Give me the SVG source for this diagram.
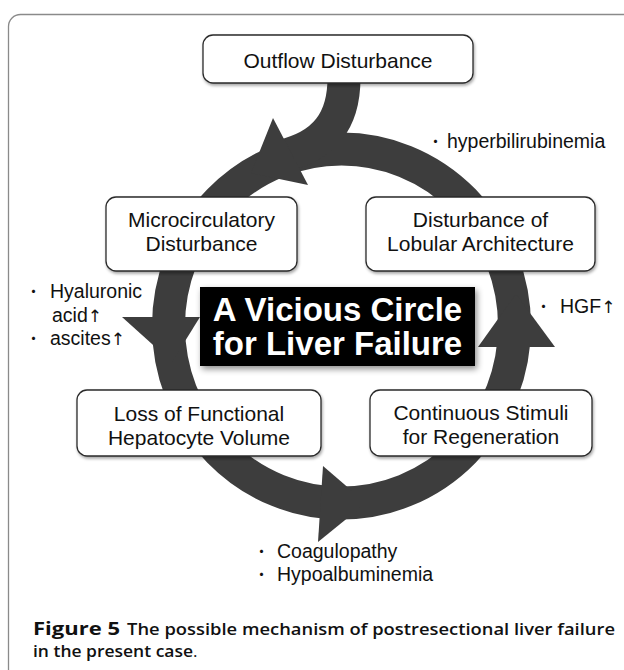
<svg xmlns="http://www.w3.org/2000/svg" width="624" height="670" viewBox="0 0 624 670">
  <defs>
    <filter id="sh" x="-10%" y="-10%" width="125%" height="140%">
      <feDropShadow dx="1" dy="2" stdDeviation="1.4" flood-color="#000" flood-opacity="0.35"/>
    </filter>
    <filter id="sh2" x="-10%" y="-15%" width="125%" height="140%">
      <feDropShadow dx="2" dy="3" stdDeviation="3" flood-color="#000" flood-opacity="0.45"/>
    </filter>
    <style>
      .box { fill: #ffffff; stroke: #2a2a2a; stroke-width: 1.3; filter: url(#sh); }
      .bt { font-family: "Liberation Sans", Arial, sans-serif; font-size: 21px; fill: #111; text-anchor: middle; }
      .lb { font-family: "Liberation Sans", "DejaVu Sans", sans-serif; font-size: 19.5px; fill: #111; }
      .ar { font-family: "DejaVu Sans", sans-serif; font-size: 17px; fill: #111; }
      .dot { font-family: "Noto Sans CJK JP", sans-serif; font-size: 15px; fill: #111; }
      .ct { font-family: "Liberation Sans", Arial, sans-serif; font-size: 33px; font-weight: bold; fill: #ffffff; text-anchor: middle; }
      .cap { font-family: "Open Sans", "Liberation Sans", sans-serif; font-size: 17px; fill: #111; }
      .band { fill: none; stroke: #3d3d3d; stroke-width: 33; }
      .head { fill: #3d3d3d; }
    </style>
  </defs>

  <rect x="0" y="0" width="624" height="670" fill="#ffffff"/>
  <rect x="8.5" y="14.5" width="650" height="690" rx="12" fill="#ffffff" stroke="#8a8a8a" stroke-width="1.3"/>

  <g id="connectors">
    <ellipse class="band" cx="341.5" cy="326" rx="173" ry="177"/>
    <path class="band" stroke-width="32" d="M344 78 C344 120 325 146 282 156"/>
    <polygon class="head" points="273,118 308,185 251,173"/>
    <polygon class="head" points="122,317 200,317 172,362"/>
    <polygon class="head" points="323,466 318,542 366,503"/>
    <polygon class="head" points="478,347 555,347 516,294"/>
  </g>

  <g id="outflow">
    <rect class="box" x="203" y="35" width="270" height="48" rx="10"/>
    <text class="bt" x="338" y="68">Outflow Disturbance</text>
  </g>

  <g id="microcirculatory">
    <rect class="box" x="106" y="197" width="191" height="74" rx="10"/>
    <text class="bt" x="201.5" y="227">Microcirculatory</text>
    <text class="bt" x="201.5" y="251">Disturbance</text>
  </g>

  <g id="lobular">
    <rect class="box" x="366" y="197" width="229" height="74" rx="10"/>
    <text class="bt" x="480.5" y="227">Disturbance of</text>
    <text class="bt" x="480.5" y="251">Lobular Architecture</text>
  </g>

  <g id="loss">
    <rect class="box" x="77" y="390" width="244" height="66" rx="10"/>
    <text class="bt" x="199" y="421">Loss of Functional</text>
    <text class="bt" x="199" y="445">Hepatocyte Volume</text>
  </g>

  <g id="continuous">
    <rect class="box" x="370" y="390" width="222" height="66" rx="10"/>
    <text class="bt" x="481" y="420">Continuous Stimuli</text>
    <text class="bt" x="481" y="444">for Regeneration</text>
  </g>

  <g id="center">
    <rect x="200" y="287" width="275" height="79" fill="#000000" filter="url(#sh2)"/>
    <text class="ct" x="337.5" y="321">A Vicious Circle</text>
    <text class="ct" x="337.5" y="355">for Liver Failure</text>
  </g>

  <g id="labels">
    <text y="147"><tspan class="dot" x="428">・</tspan><tspan class="lb" x="447" y="148">hyperbilirubinemia</tspan></text>
    <text y="312"><tspan class="dot" x="536">・</tspan><tspan class="lb" x="560" y="313">HGF</tspan><tspan class="ar">↑</tspan></text>
    <text y="297"><tspan class="dot" x="26">・</tspan><tspan class="lb" x="50" y="298">Hyaluronic</tspan></text>
    <text class="lb" x="52" y="322">acid<tspan class="ar">↑</tspan></text>
    <text y="344"><tspan class="dot" x="26">・</tspan><tspan class="lb" x="50" y="345">ascites</tspan><tspan class="ar">↑</tspan></text>
    <text y="557"><tspan class="dot" x="254">・</tspan><tspan class="lb" x="277" y="558">Coagulopathy</tspan></text>
    <text y="580"><tspan class="dot" x="254">・</tspan><tspan class="lb" x="277" y="581">Hypoalbuminemia</tspan></text>
  </g>

  <g id="caption">
    <text class="cap" y="635"><tspan x="33" font-weight="700" textLength="87" lengthAdjust="spacingAndGlyphs">Figure 5</tspan><tspan x="127" font-weight="600" textLength="488" lengthAdjust="spacingAndGlyphs">The possible mechanism of postresectional liver failure</tspan></text>
    <text class="cap" y="657"><tspan x="33" font-weight="600" textLength="160" lengthAdjust="spacingAndGlyphs">in the present case</tspan><tspan font-weight="400">.</tspan></text>
  </g>
</svg>
